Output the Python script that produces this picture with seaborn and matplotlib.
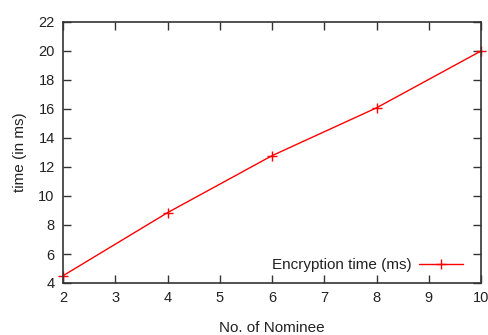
import matplotlib
matplotlib.use("Agg")
import matplotlib.pyplot as plt
import seaborn as sns
import pandas as pd

nominees = [2, 4, 6, 8, 10]
enc_time = [4.5, 8.85, 12.78, 16.08, 20.0]
series_label = "Encryption time (ms)"

sns.set_style("ticks")
plt.rcParams['font.family'] = ['Liberation Sans', 'DejaVu Sans']

df = pd.DataFrame({"x": nominees, "y": enc_time, "s": series_label})

fig = plt.figure(figsize=(4.88, 3.35), dpi=100)
ax = fig.add_axes([63/488, 1-283/335, (481-63)/488, (283-22)/335])
sns.lineplot(data=df, x="x", y="y", hue="s", palette=["#ff0000"], marker="+",
             markersize=7, markeredgewidth=1.0, markeredgecolor="#ff0000",
             linewidth=1.0, ax=ax, clip_on=False)

ax.set_xlim(2, 10)
ax.set_ylim(4, 22)
ax.set_xticks(range(2, 11))
ax.set_yticks(range(4, 23, 2))
for sp in ax.spines.values():
    sp.set_visible(True)
    sp.set_color("#333333")
    sp.set_linewidth(1.2)
ax.tick_params(direction="in", length=6, width=1, color="#333333",
               top=True, right=True, labelsize=10.5, labelcolor="#222222", pad=6)
ax.set_xlabel("No. of Nominee", fontsize=11, color="#222222", labelpad=11)
ax.set_ylabel("time (in ms)", fontsize=11, color="#222222", labelpad=8)

leg = ax.legend(loc="lower right", frameon=False, markerfirst=False,
                handlelength=2.9, handletextpad=0.5, fontsize=11,
                bbox_to_anchor=(0.99, -0.011), borderaxespad=0.5)
for t in leg.get_texts():
    t.set_color("#222222")
for h in leg.legend_handles:
    h.set_markeredgecolor("#ff0000")

fig.savefig("out.png", dpi=100)
